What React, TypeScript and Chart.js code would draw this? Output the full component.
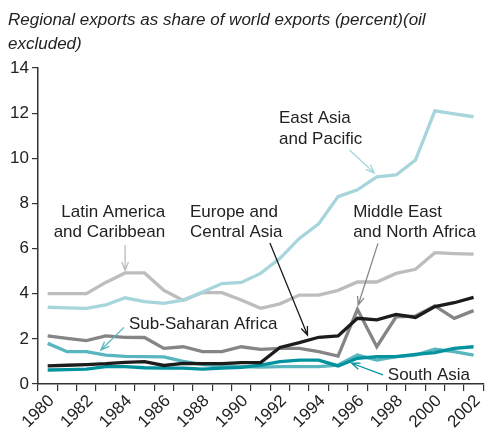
import React, { useEffect, useRef } from "react";
import { Chart, registerables } from "chart.js";

Chart.register(...registerables);

const years = [
  "1980", "1981", "1982", "1983", "1984", "1985", "1986", "1987", "1988", "1989", "1990", "1991",
  "1992", "1993", "1994", "1995", "1996", "1997", "1998", "1999", "2000", "2001", "2002",
];

const latinAmerica = [4.0, 4.0, 4.0, 4.5, 4.92, 4.92, 4.15, 3.7, 4.05, 4.05, 3.72, 3.35, 3.55, 3.94, 3.94, 4.15, 4.52, 4.52, 4.9, 5.08, 5.82, 5.78, 5.75];
const eastAsia = [3.4, 3.37, 3.35, 3.5, 3.82, 3.65, 3.57, 3.72, 4.08, 4.45, 4.5, 4.9, 5.57, 6.45, 7.1, 8.3, 8.6, 9.18, 9.26, 9.92, 12.1, 11.97, 11.84];
const middleEast = [2.13, 2.02, 1.92, 2.13, 2.07, 2.06, 1.58, 1.65, 1.43, 1.43, 1.65, 1.53, 1.58, 1.58, 1.43, 1.24, 3.31, 1.65, 2.98, 3.01, 3.46, 2.91, 3.25];
const europe = [0.8, 0.83, 0.86, 0.9, 0.96, 0.99, 0.82, 0.91, 0.9, 0.9, 0.95, 0.95, 1.62, 1.83, 2.07, 2.13, 2.91, 2.84, 3.08, 2.95, 3.43, 3.6, 3.84];
const subSaharan = [1.8, 1.43, 1.43, 1.28, 1.22, 1.21, 1.2, 1.0, 0.86, 0.8, 0.77, 0.75, 0.77, 0.77, 0.77, 0.84, 1.28, 1.06, 1.21, 1.28, 1.54, 1.43, 1.28];
const southAsia = [0.62, 0.64, 0.66, 0.77, 0.77, 0.72, 0.7, 0.7, 0.66, 0.7, 0.74, 0.84, 0.99, 1.06, 1.06, 0.8, 1.14, 1.21, 1.21, 1.31, 1.39, 1.58, 1.65];

const yTicks = [0, 2, 4, 6, 8, 10, 12, 14];

const titleLines = ["Regional exports as share of world exports (percent)(oil", "excluded)"];

const COLORS = {
  latin: "#bdbdbd",
  east: "#a6d5dc",
  mena: "#858585",
  europe: "#1c1c1c",
  subsah: "#5ab6be",
  south: "#03939e",
};

const FONT = "'Liberation Sans', Arial, Helvetica, sans-serif";

// annotation anchors in data space (x = category index, y = value)
const annotations = [
  { lines: ["East Asia", "and Pacific"], x: 11.95, y: 11.55, align: "left", arrow: [15.59, 10.37, 16.87, 9.35], color: COLORS.east },
  { lines: ["Latin America", "and Caribbean"], x: 6.07, y: 7.41, align: "right", arrow: [4.0, 6.16, 4.0, 5.03], color: COLORS.latin },
  { lines: ["Europe and", "Central Asia"], x: 7.35, y: 7.41, align: "left", arrow: [11.48, 6.25, 13.42, 2.17], color: COLORS.europe },
  { lines: ["Middle East", "and North Africa"], x: 15.78, y: 7.41, align: "left", arrow: [17.06, 6.23, 16.04, 3.5], color: "#888888" },
  { lines: ["Sub-Saharan Africa"], x: 4.2, y: 2.45, align: "left", arrow: [3.94, 2.51, 2.75, 1.51], color: COLORS.subsah },
  { lines: ["South Asia"], x: 17.57, y: 0.18, align: "left", arrow: [17.32, 0.4, 15.7, 0.92], color: COLORS.south },
];

const annotationPlugin = {
  id: "annotationsAndTitle",
  afterDatasetsDraw(chart: any) {
    const ctx = chart.ctx;
    const xs = chart.scales.x;
    const ys = chart.scales.y;
    ctx.save();
    // title
    ctx.font = `italic 17px ${FONT}`;
    ctx.fillStyle = "#222";
    ctx.textAlign = "left";
    ctx.textBaseline = "alphabetic";
    titleLines.forEach((t, i) => ctx.fillText(t, 8, 25 + i * 24));

    ctx.font = `17px ${FONT}`;
    for (const a of annotations) {
      const px = xs.getPixelForValue(a.x);
      const py = ys.getPixelForValue(a.y);
      ctx.fillStyle = "#222";
      ctx.textAlign = a.align as CanvasTextAlign;
      a.lines.forEach((l, i) => ctx.fillText(l, px, py + i * 20.5));
      const [x1, y1, x2, y2] = a.arrow;
      const ax1 = xs.getPixelForValue(x1);
      const ay1 = ys.getPixelForValue(y1);
      const ax2 = xs.getPixelForValue(x2);
      const ay2 = ys.getPixelForValue(y2);
      ctx.strokeStyle = a.color;
      ctx.lineWidth = 1.3;
      ctx.beginPath();
      ctx.moveTo(ax1, ay1);
      ctx.lineTo(ax2, ay2);
      const ang = Math.atan2(ay2 - ay1, ax2 - ax1);
      const hl = 9;
      const spread = 0.38;
      ctx.moveTo(ax2 - hl * Math.cos(ang - spread), ay2 - hl * Math.sin(ang - spread));
      ctx.lineTo(ax2, ay2);
      ctx.lineTo(ax2 - hl * Math.cos(ang + spread), ay2 - hl * Math.sin(ang + spread));
      ctx.stroke();
    }
    ctx.restore();
  },
};

export default function App() {
  const ref = useRef<HTMLCanvasElement | null>(null);
  useEffect(() => {
    if (!ref.current) return;
    const mk = (label: string, data: number[], color: string, order: number) => ({
      label,
      data,
      borderColor: color,
      backgroundColor: color,
      borderWidth: 3.3,
      pointRadius: 0,
      tension: 0,
      fill: false,
      order,
    });
    const chart = new Chart(ref.current, {
      type: "line",
      data: {
        labels: years,
        datasets: [
          mk("Latin America and Caribbean", latinAmerica, COLORS.latin, 6),
          mk("East Asia and Pacific", eastAsia, COLORS.east, 5),
          mk("Middle East and North Africa", middleEast, COLORS.mena, 4),
          mk("Sub-Saharan Africa", subSaharan, COLORS.subsah, 3),
          mk("South Asia", southAsia, COLORS.south, 2),
          mk("Europe and Central Asia", europe, COLORS.europe, 1),
        ],
      },
      options: {
        animation: false,
        responsive: false,
        maintainAspectRatio: false,
        layout: { padding: { top: 68, left: 0, right: 0, bottom: 0 } },
        plugins: {
          legend: { display: false },
          title: { display: false },
          tooltip: { enabled: false },
        },
        scales: {
          x: {
            type: "category",
            offset: true,
            grid: { offset: true, drawOnChartArea: false, tickLength: 7, color: "#333", lineWidth: 1.2 },
            border: { color: "#333", width: 1.5 },
            ticks: {
              autoSkip: false,
              maxRotation: 45,
              minRotation: 45,
              padding: 0,
              labelOffset: 4,
              color: "#222",
              font: { size: 17, family: FONT },
              callback: (_v: any, i: number) => (i % 2 === 0 ? years[i] : ""),
            },
            afterFit: (s: any) => {
              s.height = 48;
            },
          },
          y: {
            min: yTicks[0],
            max: yTicks[yTicks.length - 1],
            afterBuildTicks: (s: any) => {
              s.ticks = yTicks.map((v) => ({ value: v }));
            },
            grid: { drawOnChartArea: false, tickLength: 6, color: "#333", lineWidth: 1.2 },
            border: { color: "#333", width: 1.5 },
            ticks: { padding: 3, color: "#222", font: { size: 17, family: FONT } },
            afterFit: (s: any) => {
              s.width = 38;
            },
          },
        },
      },
      plugins: [annotationPlugin],
    });
    return () => chart.destroy();
  }, []);
  return (
    <div style={{ position: "fixed", left: 0, top: 0, width: 488, height: 432, background: "#fff" }}>
      <canvas ref={ref} width={488} height={432} />
    </div>
  );
}
